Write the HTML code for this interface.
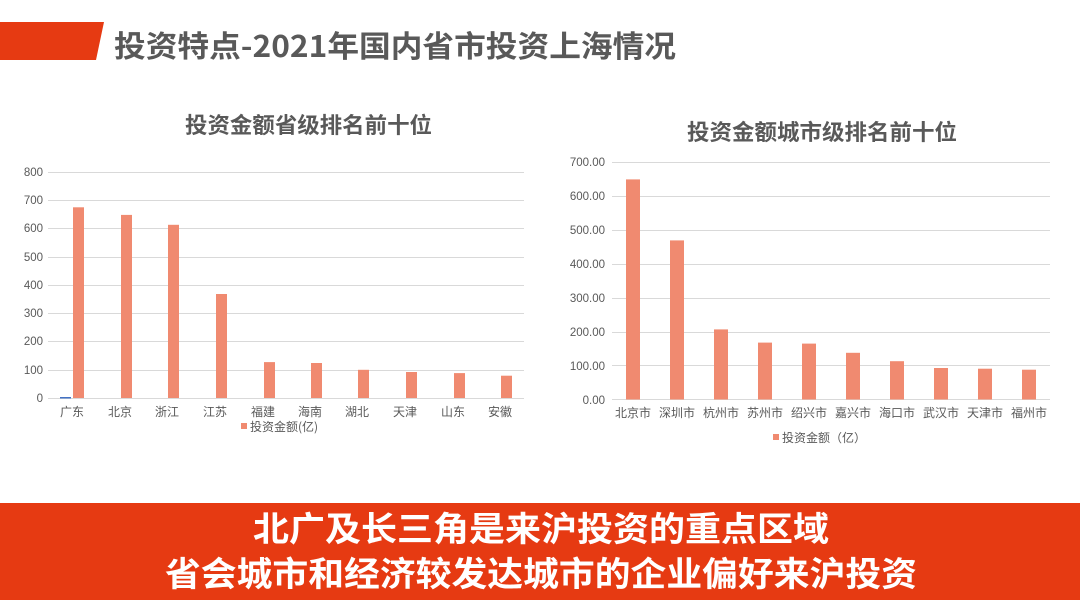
<!DOCTYPE html>
<html><head><meta charset="utf-8"><style>
html,body{margin:0;padding:0;background:#fff;}
svg{display:block;font-family:"Liberation Sans","Noto Sans CJK SC",sans-serif;}
</style></head><body>
<svg width="1080" height="608" viewBox="0 0 1080 608">
<polygon points="0,22 104,22 96,60 0,60" fill="#E63A12"/>
<text x="114" y="57" font-size="30" font-weight="bold" fill="#595959" font-family="Noto Sans CJK SC, sans-serif" textLength="562" lengthAdjust="spacingAndGlyphs">投资特点-2021年国内省市投资上海情况</text>

<text x="185" y="133" font-size="22" font-weight="bold" fill="#595959" font-family="Noto Sans CJK SC, sans-serif" textLength="247" lengthAdjust="spacingAndGlyphs">投资金额省级排名前十位</text>
<text x="687" y="140" font-size="22" font-weight="bold" fill="#595959" font-family="Noto Sans CJK SC, sans-serif" textLength="270" lengthAdjust="spacingAndGlyphs">投资金额城市级排名前十位</text>

<g stroke="#D9D9D9" stroke-width="1">
<line x1="48" x2="524" y1="172.5" y2="172.5"/>
<line x1="48" x2="524" y1="200.5" y2="200.5"/>
<line x1="48" x2="524" y1="228.5" y2="228.5"/>
<line x1="48" x2="524" y1="257.5" y2="257.5"/>
<line x1="48" x2="524" y1="285.5" y2="285.5"/>
<line x1="48" x2="524" y1="313.5" y2="313.5"/>
<line x1="48" x2="524" y1="341.5" y2="341.5"/>
<line x1="48" x2="524" y1="370.5" y2="370.5"/>
<line x1="48" x2="524" y1="398.5" y2="398.5"/>
</g>
<g font-size="11.5" fill="#595959" text-anchor="end">
<text x="43" y="176">800</text><text x="43" y="204">700</text><text x="43" y="232">600</text>
<text x="43" y="261">500</text><text x="43" y="289">400</text><text x="43" y="317">300</text>
<text x="43" y="345">200</text><text x="43" y="374">100</text><text x="43" y="402">0</text>
</g>
<rect x="60" y="397" width="11" height="1.5" fill="#4472C4"/>
<g fill="#F08A70">
<rect x="73" y="207.3" width="11" height="190.7"/>
<rect x="121" y="214.9" width="11" height="183.1"/>
<rect x="168" y="224.8" width="11" height="173.2"/>
<rect x="216" y="294" width="11" height="104"/>
<rect x="264" y="362.1" width="11" height="35.9"/>
<rect x="311" y="363" width="11" height="35"/>
<rect x="358" y="369.8" width="11" height="28.2"/>
<rect x="406" y="372" width="11" height="26"/>
<rect x="454" y="373.1" width="11" height="24.9"/>
<rect x="501" y="375.7" width="11" height="22.3"/>
</g>
<g font-size="12" fill="#595959" text-anchor="middle" font-family="Noto Sans CJK SC, sans-serif">
<text x="72" y="416">广东</text><text x="120" y="416">北京</text><text x="167" y="416">浙江</text>
<text x="215" y="416">江苏</text><text x="263" y="416">福建</text><text x="310" y="416">海南</text>
<text x="357" y="416">湖北</text><text x="405" y="416">天津</text><text x="453" y="416">山东</text>
<text x="500" y="416">安徽</text>
</g>
<rect x="241" y="423" width="6" height="6" fill="#F08A70"/>
<text x="250" y="431" font-size="12" fill="#595959" font-family="Noto Sans CJK SC, sans-serif">投资金额(亿)</text>

<g stroke="#D9D9D9" stroke-width="1">
<line x1="612" x2="1050" y1="162.5" y2="162.5"/>
<line x1="612" x2="1050" y1="196.5" y2="196.5"/>
<line x1="612" x2="1050" y1="230.5" y2="230.5"/>
<line x1="612" x2="1050" y1="264.5" y2="264.5"/>
<line x1="612" x2="1050" y1="298.5" y2="298.5"/>
<line x1="612" x2="1050" y1="332.5" y2="332.5"/>
<line x1="612" x2="1050" y1="365.5" y2="365.5"/>
<line x1="612" x2="1050" y1="399.5" y2="399.5"/>
</g>
<g font-size="11.5" fill="#595959" text-anchor="end">
<text x="605" y="166">700.00</text><text x="605" y="200">600.00</text><text x="605" y="234">500.00</text>
<text x="605" y="268">400.00</text><text x="605" y="302">300.00</text><text x="605" y="336">200.00</text>
<text x="605" y="370">100.00</text><text x="605" y="404">0.00</text>
</g>
<g fill="#F08A70">
<rect x="626" y="179.4" width="14" height="220.1"/>
<rect x="670" y="240.4" width="14" height="159.1"/>
<rect x="714" y="329.4" width="14" height="70.1"/>
<rect x="758" y="342.6" width="14" height="56.9"/>
<rect x="802" y="343.6" width="14" height="55.9"/>
<rect x="846" y="352.8" width="14" height="46.7"/>
<rect x="890" y="361.2" width="14" height="38.3"/>
<rect x="934" y="368" width="14" height="31.5"/>
<rect x="978" y="368.7" width="14" height="30.8"/>
<rect x="1022" y="369.7" width="14" height="29.8"/>
</g>
<g font-size="12" fill="#595959" text-anchor="middle" font-family="Noto Sans CJK SC, sans-serif">
<text x="633" y="417">北京市</text><text x="677" y="417">深圳市</text><text x="721" y="417">杭州市</text>
<text x="765" y="417">苏州市</text><text x="809" y="417">绍兴市</text><text x="853" y="417">嘉兴市</text>
<text x="897" y="417">海口市</text><text x="941" y="417">武汉市</text><text x="985" y="417">天津市</text>
<text x="1029" y="417">福州市</text>
</g>
<rect x="773" y="434" width="6" height="6" fill="#F08A70"/>
<text x="782" y="442" font-size="12" fill="#595959" font-family="Noto Sans CJK SC, sans-serif">投资金额（亿）</text>

<rect x="0" y="503" width="1080" height="97" fill="#E63A12"/>
<text x="253" y="541" font-size="34" font-weight="bold" fill="#fff" font-family="Noto Sans CJK SC, sans-serif" textLength="576" lengthAdjust="spacingAndGlyphs">北广及长三角是来沪投资的重点区域</text>
<text x="165" y="586" font-size="34" font-weight="bold" fill="#fff" font-family="Noto Sans CJK SC, sans-serif" textLength="752" lengthAdjust="spacingAndGlyphs">省会城市和经济较发达城市的企业偏好来沪投资</text>
</svg>
</body></html>
